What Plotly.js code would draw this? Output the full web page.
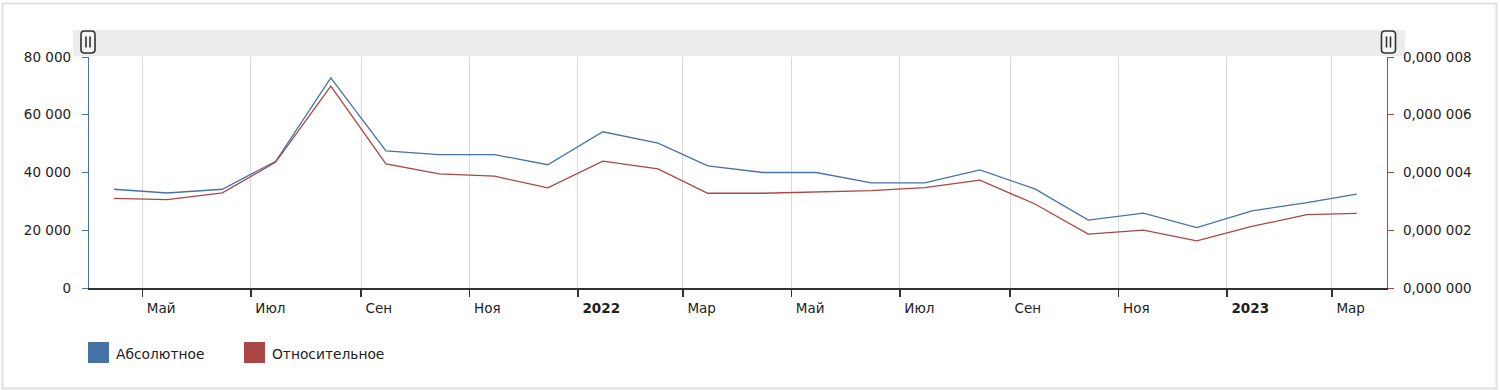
<!DOCTYPE html>
<html><head><meta charset="utf-8">
<script src="https://cdn.plot.ly/plotly-3.0.1.min.js"></script>
<style>html,body{margin:0;padding:0;background:#fff}#chart{width:1500px;height:390px}</style>
</head><body><div id="chart"></div>
<script>
// ---- data ----
const months = ['2021-04-15','2021-05-15','2021-06-15','2021-07-15','2021-08-15','2021-09-15',
  '2021-10-15','2021-11-15','2021-12-15','2022-01-15','2022-02-15','2022-03-15',
  '2022-04-15','2022-05-15','2022-06-15','2022-07-15','2022-08-15','2022-09-15',
  '2022-10-15','2022-11-15','2022-12-15','2023-01-15','2023-02-15','2023-03-15'];
const absoluteValues = [34200,32900,34200,43900,72800,47500,46200,46200,42700,54100,50200,42300,
  40000,40000,36400,36400,40900,34300,23500,25900,20900,26700,29600,32500];
const relativeValues = [0.003107,0.003061,0.003293,0.004359,0.006991,0.004301,0.003954,0.003872,
  0.003467,0.004394,0.004128,0.003281,0.003281,0.003316,0.003374,0.003478,0.003733,0.002910,
  0.001867,0.002006,0.001635,0.002133,0.002539,0.002586];
const seriesNames = ['Абсолютное','Относительное'];
const xTickDates = ['2021-05-01','2021-07-01','2021-09-01','2021-11-01','2022-01-01','2022-03-01',
  '2022-05-01','2022-07-01','2022-09-01','2022-11-01','2023-01-01','2023-03-01'];
const xTickLabels = ['Май','Июл','Сен','Ноя','<b>2022</b>','Мар','Май','Июл','Сен','Ноя','<b>2023</b>','Мар'];
const leftTicks = [0,20000,40000,60000,80000];
const rightTicks = [0,0.002,0.004,0.006,0.008];
const rightTickLabels = ['0,000 000','0,000 002','0,000 004','0,000 006','0,000 008'];

// ---- styling ----
const BLUE = '#4572A7', RED = '#AA4643', TXT = '#222';
const W = 1500, H = 390, L = 89, R = 1387, T = 57, B = 288;
const px = x => (x - L) / (R - L);
const py = y => (B - y) / (B - T);

function roundRect(x0, y0, x1, y1, r) {
  const X = v => px(v).toFixed(5), Y = v => py(v).toFixed(5);
  return `M${X(x0+r)},${Y(y0)} L${X(x1-r)},${Y(y0)} Q${X(x1)},${Y(y0)} ${X(x1)},${Y(y0+r)} ` +
    `L${X(x1)},${Y(y1-r)} Q${X(x1)},${Y(y1)} ${X(x1-r)},${Y(y1)} L${X(x0+r)},${Y(y1)} ` +
    `Q${X(x0)},${Y(y1)} ${X(x0)},${Y(y1-r)} L${X(x0)},${Y(y0+r)} Q${X(x0)},${Y(y0)} ${X(x0+r)},${Y(y0)} Z`;
}

const shapes = [];
// outer frame
shapes.push({type:'rect', xref:'paper', yref:'paper', x0:px(2.5), x1:px(1496.5), y0:py(388.5), y1:py(3.5),
  line:{color:'#e0e0e0', width:2}, fillcolor:'rgba(0,0,0,0)', layer:'below'});
// scrollbar band
shapes.push({type:'rect', xref:'paper', yref:'paper', x0:px(73), x1:px(1405), y0:py(56), y1:py(30),
  line:{width:0}, fillcolor:'#ececec', layer:'below'});
// handles
[88, 1388.5].forEach(cx => {
  shapes.push({type:'path', xref:'paper', yref:'paper', path: roundRect(cx-7, 31, cx+7, 53, 3.5),
    line:{color:'#333', width:1.6}, fillcolor:'#f5f5f5'});
  [-2, 2].forEach(d => shapes.push({type:'line', xref:'paper', yref:'paper',
    x0:px(cx+d), x1:px(cx+d), y0:py(36.5), y1:py(47.5), line:{color:'#333', width:1.6}}));
});
// legend squares
const legendX = [88, 244];
const legendText = [114, 270];
const colors = [BLUE, RED];
const annotations = [];
seriesNames.forEach((n, i) => {
  shapes.push({type:'rect', xref:'paper', yref:'paper', x0:px(legendX[i]), x1:px(legendX[i]+21),
    y0:py(363), y1:py(342), line:{width:0}, fillcolor:colors[i]});
  annotations.push({xref:'paper', yref:'paper', x:px(legendText[i]), y:py(354), text:n,
    showarrow:false, xanchor:'left', yanchor:'middle', font:{size:13.8, color:TXT}});
});

const traces = [
  {x: months, y: absoluteValues, name: seriesNames[0], type:'scatter', mode:'lines',
   line:{color:BLUE, width:1.3}, yaxis:'y', showlegend:false},
  {x: months, y: relativeValues, name: seriesNames[1], type:'scatter', mode:'lines',
   line:{color:RED, width:1.3}, yaxis:'y2', showlegend:false}
];

const layout = {
  width: W, height: H,
  margin: {l: L, r: W - R, t: T, b: H - B, pad: 0},
  paper_bgcolor:'#fff', plot_bgcolor:'#fff',
  font: {family:'DejaVu Sans, Verdana, sans-serif', size:13, color:TXT},
  separators: ', ',
  showlegend: false,
  xaxis: {
    type:'date', range:['2021-04-01','2023-04-01'],
    tickmode:'array', tickvals:xTickDates, ticktext:xTickLabels,
    ticks:'outside', ticklen:7, tickwidth:1.5, tickcolor:'#333',
    showline:true, linecolor:'#333', linewidth:1.5,
    showgrid:true, gridcolor:'#d9d9d9', gridwidth:1,
    ticklabelposition:'outside right', ticklabelshift:3, ticklabelstandoff:7,
    tickfont:{size:13.5},
    zeroline:false, fixedrange:true
  },
  yaxis: {
    range:[0, 80000], tickmode:'array', tickvals:leftTicks, tickformat:',d',
    ticks:'outside', ticklen:6, tickcolor:BLUE, tickwidth:1,
    showline:true, linecolor:BLUE, linewidth:1.2,
    showgrid:false, zeroline:false, ticklabelstandoff:8, fixedrange:true,
    tickfont:{size:13.5}
  },
  yaxis2: {
    overlaying:'y', side:'right', range:[0, 0.008],
    tickmode:'array', tickvals:rightTicks, ticktext:rightTickLabels,
    ticks:'outside', ticklen:6, tickcolor:RED, tickwidth:1,
    showline:true, linecolor:RED, linewidth:1.2,
    showgrid:false, zeroline:false, ticklabelstandoff:6, fixedrange:true,
    tickfont:{size:13.5}
  },
  shapes: shapes,
  annotations: annotations
};

Plotly.newPlot('chart', traces, layout, {displayModeBar:false, staticPlot:true});
</script></body></html>
